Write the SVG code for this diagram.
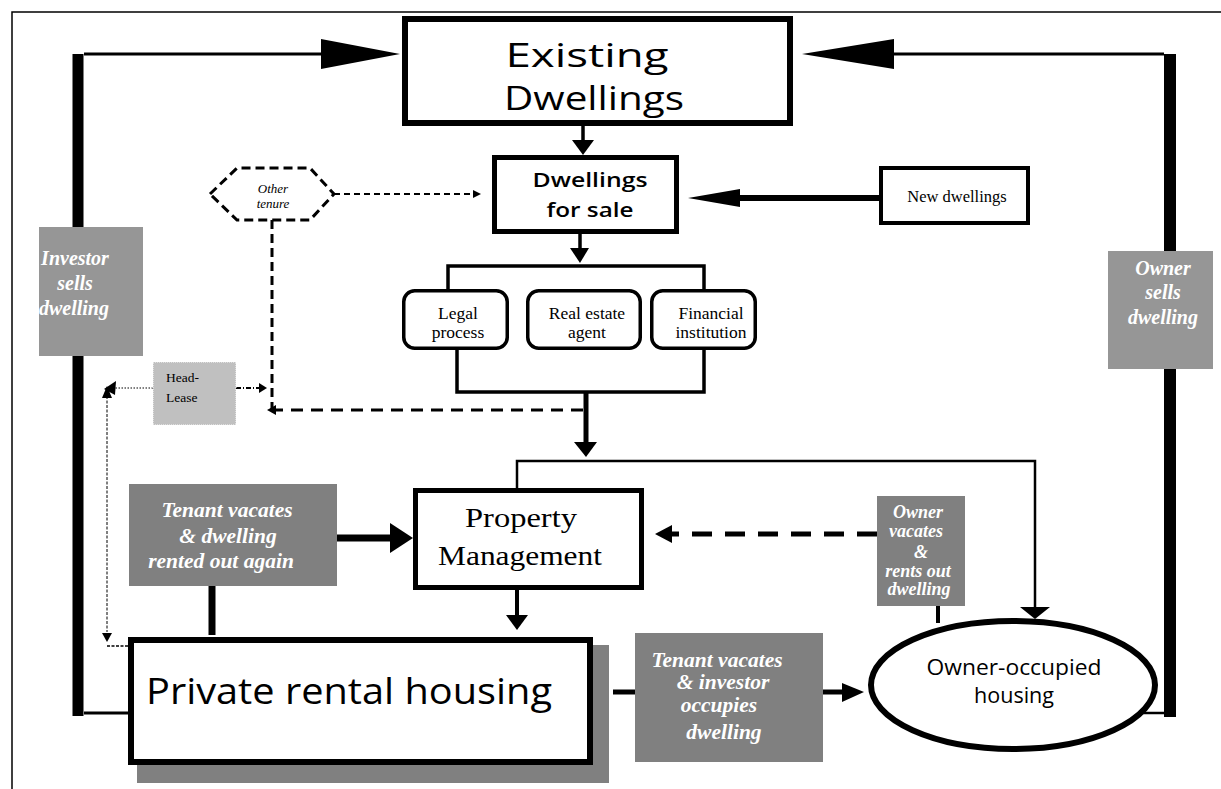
<svg xmlns="http://www.w3.org/2000/svg" width="1221" height="789" viewBox="0 0 1221 789">
<style>
.box{fill:#fff;stroke:#000}
.sans{font-family:"Open Sans","Liberation Sans",sans-serif;fill:#000}
.serif{font-family:"Liberation Serif","Times New Roman",serif;fill:#000}
.lab{font-family:"Liberation Serif","Times New Roman",serif;font-weight:bold;font-style:italic;fill:#fff}
.g1{fill:#969696}
.g2{fill:#808080}
.ln{fill:none;stroke:#000}
</style>
<rect x="0" y="0" width="1221" height="789" fill="#fff"/>
<g id="frame">
<path d="M1221,12 H12 V789" fill="none" stroke="#000" stroke-width="1.5"/>
</g>
<g id="connectors">
<!-- left loop -->
<path class="ln" d="M78,716 V54" stroke-width="11"/>
<path class="ln" d="M84,54 H325" stroke-width="3"/>
<path class="ln" d="M84,713 H130" stroke-width="3"/>
<polygon points="321,39 400,54 321,69"/>
<!-- right loop -->
<path class="ln" d="M1170,717 V54" stroke-width="12"/>
<path class="ln" d="M1164,54 H890" stroke-width="3"/>
<path class="ln" d="M1140,713 H1165" stroke-width="2.5"/>
<polygon points="894,39 802,54 894,69"/>
<!-- existing -> for sale -->
<path class="ln" d="M583,126 V142" stroke-width="3.5"/>
<polygon points="572,140 594,140 583,155"/>
<!-- new dwellings -> for sale -->
<path class="ln" d="M740,198 H879" stroke-width="6"/>
<polygon points="740,189 740,207 688,198"/>
<!-- for sale -> bracket -->
<path class="ln" d="M580,234 V250" stroke-width="3.5"/>
<polygon points="570,248 589,248 580,263"/>
<path class="ln" d="M448,289 V266 H704 V289" stroke-width="3.5"/>
<!-- bracket bottom -->
<path class="ln" d="M457,350 V392 H704 V350" stroke-width="3.5"/>
<path class="ln" d="M586,392 V444" stroke-width="5"/>
<polygon points="574,442 597,442 586,457"/>
<!-- distribution to property mgmt and owner-occupied -->
<path class="ln" d="M517,488 V461 H1035 V610" stroke-width="2.5"/>
<polygon points="1020,607 1050,607 1035,619"/>
<!-- other tenure -> for sale -->
<path class="ln" d="M334,194 H474" stroke-width="2" stroke-dasharray="6,4"/>
<polygon points="473,190 481,194 473,198"/>
<!-- other tenure down -->
<path class="ln" d="M272,220 V410" stroke-width="3" stroke-dasharray="9,5"/>
<path class="ln" d="M583,410 H274" stroke-width="3" stroke-dasharray="12,8"/>
<polygon points="276,405 267,410 276,415"/>
<!-- head-lease -->
<path class="ln" d="M236,388 H260" stroke-width="2" stroke-dasharray="5,2,1,2"/>
<polygon points="259,383 267,388 259,393"/>
<path class="ln" d="M153,388 H112" stroke-width="1" stroke-dasharray="1.5,1.5"/>
<polygon points="116,381 104,389 115,395"/>
<path class="ln" d="M107,396 V632" stroke-width="1" stroke-dasharray="3,1.5"/>
<polygon points="102,398 107,386 112,398"/>
<polygon points="102,633 112,633 107,642"/>
<path class="ln" d="M107,646 H128" stroke-width="1.5" stroke-dasharray="3,1.5"/>
<!-- tenant vacates -> property mgmt -->
<path class="ln" d="M337,538 H392" stroke-width="7"/>
<polygon points="390,523 390,553 413,538"/>
<path class="ln" d="M212,586 V635" stroke-width="7"/>
<!-- property mgmt -> private rental -->
<path class="ln" d="M517,590 V617" stroke-width="4"/>
<polygon points="506,615 528,615 517,630"/>
<!-- private rental -> tenant vacates 2 -> owner-occupied -->
<path class="ln" d="M613,692 H635" stroke-width="5"/>
<path class="ln" d="M823,692 H844" stroke-width="5"/>
<polygon points="842,683 842,702 864,692"/>
<!-- owner vacates -> property mgmt -->
<path class="ln" d="M877,534 H672" stroke-width="5" stroke-dasharray="20,13"/>
<polygon points="672,525 672,543 655,534"/>
<path class="ln" d="M938,606 V652" stroke-width="4" stroke-dasharray="17,7"/>
</g>
<g id="existing-dwellings">
<rect class="box" x="405" y="19" width="385" height="104" stroke-width="6"/>
<text class="sans" x="587" y="67" font-size="32" text-anchor="middle" textLength="163" lengthAdjust="spacingAndGlyphs">Existing</text>
<text class="sans" x="594" y="110" font-size="32" text-anchor="middle" textLength="180" lengthAdjust="spacingAndGlyphs">Dwellings</text>
</g>
<g id="dwellings-for-sale">
<rect class="box" x="494.5" y="157.5" width="182" height="74" stroke-width="5"/>
<text class="sans" x="590" y="187" font-size="19" font-weight="600" text-anchor="middle" textLength="115" lengthAdjust="spacingAndGlyphs">Dwellings</text>
<text class="sans" x="590" y="217" font-size="19" font-weight="600" text-anchor="middle" textLength="87" lengthAdjust="spacingAndGlyphs">for sale</text>
</g>
<g id="new-dwellings">
<rect class="box" x="881" y="168" width="147" height="55" stroke-width="4"/>
<text class="serif" x="957" y="202" font-size="16.5" text-anchor="middle">New dwellings</text>
</g>
<g id="other-tenure">
<polygon points="210,194 237,168 310,168 334,194 310,220 237,220" fill="#fff" stroke="#000" stroke-width="3" stroke-dasharray="9,5"/>
<text class="serif" x="273" y="193" font-size="13" font-style="italic" text-anchor="middle" fill="#333">Other</text>
<text class="serif" x="273" y="208" font-size="13" font-style="italic" text-anchor="middle" fill="#333">tenure</text>
</g>
<g id="investor-sells">
<rect class="g1" x="39" y="227" width="104" height="129"/>
<text class="lab" x="75" y="265" font-size="20" text-anchor="middle">Investor</text>
<text class="lab" x="75" y="290" font-size="20" text-anchor="middle">sells</text>
<text class="lab" x="74" y="315" font-size="20" text-anchor="middle">dwelling</text>
</g>
<g id="owner-sells">
<rect class="g1" x="1108" y="251" width="105" height="118"/>
<text class="lab" x="1163" y="275" font-size="20" text-anchor="middle">Owner</text>
<text class="lab" x="1163" y="299" font-size="20" text-anchor="middle">sells</text>
<text class="lab" x="1163" y="324" font-size="20" text-anchor="middle">dwelling</text>
</g>
<g id="legal-process">
<rect class="box" x="403.75" y="290.75" width="103.5" height="57.5" rx="11" stroke-width="3.5"/>
<text class="serif" x="458" y="319" font-size="17.5" text-anchor="middle">Legal</text>
<text class="serif" x="458" y="338" font-size="17.5" text-anchor="middle">process</text>
</g>
<g id="real-estate-agent">
<rect class="box" x="527.75" y="290.75" width="112.5" height="57.5" rx="11" stroke-width="3.5"/>
<text class="serif" x="587" y="319" font-size="17.5" text-anchor="middle">Real estate</text>
<text class="serif" x="587" y="338" font-size="17.5" text-anchor="middle">agent</text>
</g>
<g id="financial-institution">
<rect class="box" x="651.75" y="290.75" width="103.5" height="57.5" rx="11" stroke-width="3.5"/>
<text class="serif" x="711" y="319" font-size="17.5" text-anchor="middle">Financial</text>
<text class="serif" x="711" y="338" font-size="17.5" text-anchor="middle">institution</text>
</g>
<g id="head-lease">
<rect x="153" y="362" width="83" height="63" fill="#c0c0c0" stroke="#fff" stroke-width="1" stroke-dasharray="1,1"/>
<text class="serif" x="166" y="382" font-size="13.5" fill="#111">Head-</text>
<text class="serif" x="166" y="402" font-size="13.5" fill="#111">Lease</text>
</g>
<g id="tenant-vacates-rented">
<rect class="g2" x="129" y="484" width="208" height="102"/>
<text class="lab" x="227" y="517" font-size="21.5" text-anchor="middle">Tenant vacates</text>
<text class="lab" x="228" y="543" font-size="21.5" text-anchor="middle">&amp; dwelling</text>
<text class="lab" x="221" y="568" font-size="21.5" text-anchor="middle">rented out again</text>
</g>
<g id="property-management">
<rect class="box" x="415.5" y="490.5" width="226" height="97" stroke-width="5"/>
<text class="serif" x="521" y="527" font-size="28" text-anchor="middle" textLength="112" lengthAdjust="spacingAndGlyphs">Property</text>
<text class="serif" x="520" y="565" font-size="28" text-anchor="middle" textLength="164" lengthAdjust="spacingAndGlyphs">Management</text>
</g>
<g id="owner-vacates">
<rect class="g2" x="877" y="496" width="88" height="110"/>
<text class="lab" x="918" y="518" font-size="18" text-anchor="middle">Owner</text>
<text class="lab" x="916" y="537" font-size="18" text-anchor="middle">vacates</text>
<text class="lab" x="921" y="558" font-size="18" text-anchor="middle">&amp;</text>
<text class="lab" x="918" y="577" font-size="18" text-anchor="middle">rents out</text>
<text class="lab" x="919" y="595" font-size="18" text-anchor="middle">dwelling</text>
</g>
<g id="private-rental-housing">
<rect class="g2" x="137" y="645" width="472" height="138"/>
<rect class="box" x="131" y="640" width="459" height="122" stroke-width="6"/>
<text class="sans" x="146" y="704" font-size="36" textLength="406" lengthAdjust="spacingAndGlyphs">Private rental housing</text>
</g>
<g id="tenant-vacates-investor">
<rect class="g2" x="635" y="633" width="188" height="129"/>
<text class="lab" x="717" y="667" font-size="21.5" text-anchor="middle">Tenant vacates</text>
<text class="lab" x="723" y="689" font-size="21.5" text-anchor="middle">&amp; investor</text>
<text class="lab" x="719" y="712" font-size="21.5" text-anchor="middle">occupies</text>
<text class="lab" x="724" y="739" font-size="21.5" text-anchor="middle">dwelling</text>
</g>
<g id="owner-occupied-housing">
<ellipse cx="1013" cy="685" rx="142" ry="64" fill="#fff" stroke="#000" stroke-width="6"/>
<text class="sans" x="1014" y="675" font-size="21" text-anchor="middle" textLength="175" lengthAdjust="spacingAndGlyphs">Owner-occupied</text>
<text class="sans" x="1014" y="703" font-size="21" text-anchor="middle" textLength="80" lengthAdjust="spacingAndGlyphs">housing</text>
</g>
</svg>
